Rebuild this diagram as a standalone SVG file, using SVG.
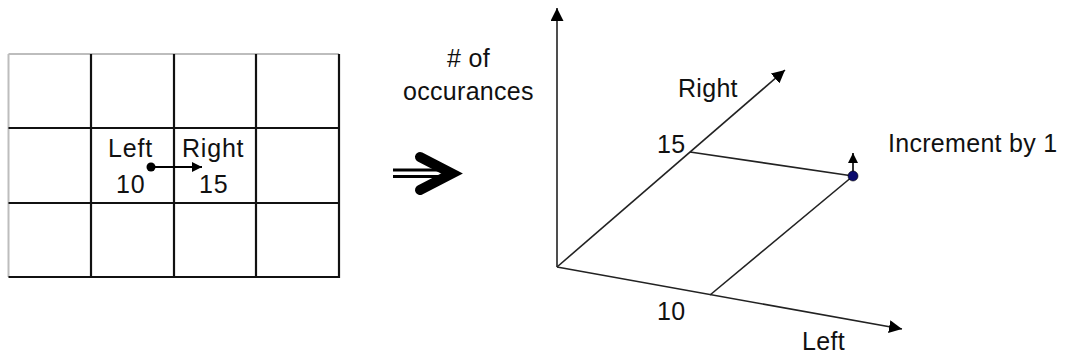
<svg xmlns="http://www.w3.org/2000/svg" width="1065" height="356" viewBox="0 0 1065 356">
<defs>
<style>
text{font-family:"Liberation Sans",Arial,sans-serif;font-size:25px;letter-spacing:0.3px;fill:#111}
text.c{letter-spacing:0.8px}
.g{stroke:#111;stroke-width:2.2;fill:none}
.gb{stroke:#bdbdbd;stroke-width:2;fill:none}
.ax{stroke:#222;stroke-width:1.6;fill:none}
</style>
<marker id="ah" markerUnits="userSpaceOnUse" viewBox="0 0 13 13" refX="13" refY="6.5" markerWidth="13" markerHeight="13" orient="auto"><path d="M0,0 L13,6.5 L0,13 Z" fill="#000"/></marker>
<marker id="ahs" markerUnits="userSpaceOnUse" viewBox="0 0 10 10" refX="10" refY="5" markerWidth="10" markerHeight="10" orient="auto"><path d="M0,0 L10,5 L0,10 Z" fill="#000"/></marker>
</defs>
<rect width="1065" height="356" fill="#fff"/>
<g id="grid">
<line class="gb" x1="8.5" y1="54" x2="339" y2="54"/>
<line class="gb" x1="8.5" y1="54" x2="8.5" y2="277"/>
<line class="g" x1="91" y1="54" x2="91" y2="277"/>
<line class="g" x1="174" y1="54" x2="174" y2="277"/>
<line class="g" x1="256" y1="54" x2="256" y2="277"/>
<line class="g" x1="339" y1="54" x2="339" y2="278"/>
<line class="g" x1="8.5" y1="128" x2="339" y2="128"/>
<line class="g" x1="8.5" y1="203" x2="339" y2="203"/>
<line class="g" x1="8.5" y1="277" x2="340" y2="277"/>
<text class="c" x="108" y="157">Left</text>
<text class="c" x="116" y="193">10</text>
<text class="c" x="182" y="157">Right</text>
<text class="c" x="199" y="193">15</text>
<circle cx="151" cy="167" r="4.5" fill="#000"/>
</g>
<g id="double-arrow">
<line x1="393" y1="170" x2="442" y2="170" stroke="#000" stroke-width="3"/>
<line x1="393" y1="176.5" x2="442" y2="176.5" stroke="#000" stroke-width="3"/>
<path d="M420,157 L452,173.5 L420,190" fill="none" stroke="#000" stroke-width="10" stroke-linecap="round" stroke-linejoin="miter" stroke-miterlimit="10"/>
</g>
<g id="chart">
<text x="447" y="67"># of</text>
<text x="403" y="100">occurances</text>
<text x="678" y="97">Right</text>
<text x="657" y="153">15</text>
<text x="657" y="320">10</text>
<text x="888" y="152">Increment by 1</text>
<text x="802" y="350">Left</text>
</g>
<g id="connectors">
<line x1="155" y1="167" x2="202" y2="167" stroke="#000" stroke-width="2" marker-end="url(#ahs)"/>
<line class="ax" x1="557" y1="267" x2="557" y2="8" marker-end="url(#ah)"/>
<line class="ax" x1="557" y1="267" x2="785" y2="70" marker-end="url(#ah)"/>
<line class="ax" x1="557" y1="267" x2="902" y2="329" marker-end="url(#ah)"/>
<line class="ax" x1="690" y1="152" x2="853" y2="176"/>
<line class="ax" x1="710" y1="295" x2="853" y2="176"/>
<line x1="853" y1="172" x2="853" y2="153" stroke="#000" stroke-width="1.6" marker-end="url(#ahs)"/>
<circle cx="853" cy="176" r="5" fill="#0b0b6e" stroke="#000" stroke-width="0.6"/>
</g>
</svg>
